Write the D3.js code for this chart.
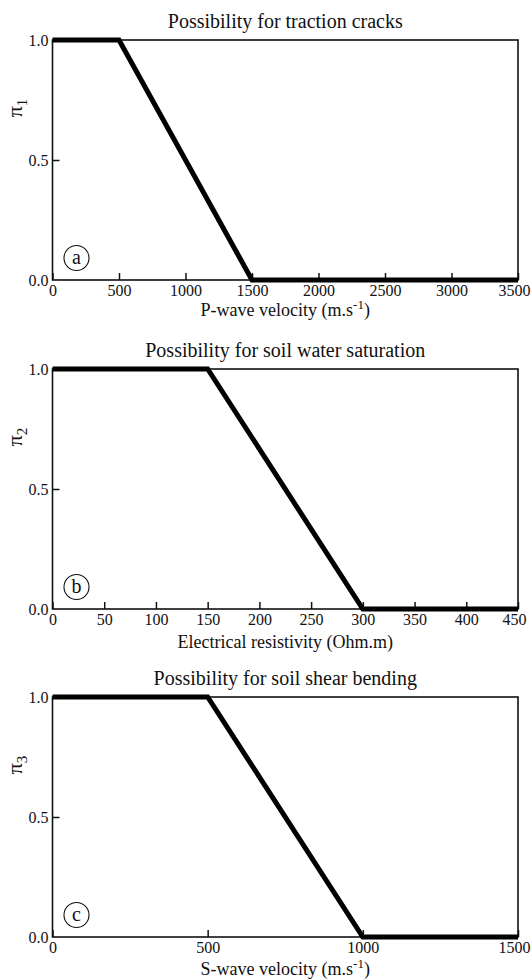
<!DOCTYPE html>
<html>
<head>
<meta charset="utf-8">
<script src="https://cdn.jsdelivr.net/npm/d3@7"></script>
<style>
  body { margin: 0; background: #fff; }
  svg { display: block; font-family: "Liberation Serif", "DejaVu Serif", serif; }
  .tick text { font-size: 16px; fill: #111; }
</style>
</head>
<body>
<svg id="chart" width="532" height="980"></svg>
<script>
// panel data: breakpoints of each possibility curve
const titles = ["Possibility for traction cracks", "Possibility for soil water saturation", "Possibility for soil shear bending"];
const xLabels = ["P-wave velocity (m.s", "Electrical resistivity (Ohm.m)", "S-wave velocity (m.s"];
const xLabelSup = ["-1", "", "-1"];
const yLabelSub = ["1", "2", "3"];
const letters = ["a", "b", "c"];
const xMax = [3500, 450, 1500];
const xTicks = [
  [0, 500, 1000, 1500, 2000, 2500, 3000, 3500],
  [0, 50, 100, 150, 200, 250, 300, 350, 400, 450],
  [0, 500, 1000, 1500]
];
const yTicks = [0, 0.5, 1];
const curveX = [
  [0, 500, 1500, 3500],
  [0, 150, 300, 450],
  [0, 500, 1000, 1500]
];
const curveY = [1, 1, 0, 0];

const left = 52.5, right = 518, panelH = 240;
const tops = [40, 369, 697];
const xLabelGap = [36, 39, 38];
const serif = '"Liberation Serif", "DejaVu Serif", serif';

const svg = d3.select("#chart");

titles.forEach((title, i) => {
  const g = svg.append("g").attr("transform", `translate(${left},${tops[i]})`);
  const w = right - left;

  const x = d3.scaleLinear().domain([0, xMax[i]]).range([0, w]);
  const y = d3.scaleLinear().domain([0, 1]).range([panelH, 0]);

  // bottom axis, ticks pointing in
  const xa = g.append("g")
    .attr("transform", `translate(0,${panelH})`)
    .call(d3.axisBottom(x).tickValues(xTicks[i]).tickSizeInner(-7).tickSizeOuter(0).tickPadding(5)
      .tickFormat(d3.format("d")))
    .attr("font-family", serif);
  xa.select(".domain").remove();
  xa.selectAll(".tick line").attr("stroke", "#111").attr("stroke-width", 1.5);
  // keep the last label inside the page, like the original
  xa.selectAll(".tick").filter(d => d === xMax[i]).select("text").attr("dx", -4);

  const ya = g.append("g")
    .call(d3.axisLeft(y).tickValues(yTicks).tickSizeInner(-7).tickSizeOuter(0).tickPadding(4)
      .tickFormat(d3.format(".1f")))
    .attr("font-family", serif);
  ya.select(".domain").remove();
  ya.selectAll(".tick line").attr("stroke", "#111").attr("stroke-width", 1.5);
  ya.selectAll(".tick").filter(d => d !== 0.5).select("line").remove();

  // frame
  g.append("rect")
    .attr("width", w).attr("height", panelH)
    .attr("fill", "none").attr("stroke", "#111").attr("stroke-width", 1.6);

  // possibility curve
  const pts = curveX[i].map((v, k) => [v, curveY[k]]);
  g.append("path")
    .datum(pts)
    .attr("fill", "none")
    .attr("stroke", "#000")
    .attr("stroke-width", 5)
    .attr("stroke-linejoin", "miter")
    .attr("d", d3.line().x(d => x(d[0])).y(d => y(d[1])));

  // title
  g.append("text")
    .attr("x", w / 2).attr("y", -12)
    .attr("text-anchor", "middle")
    .attr("font-size", 20).attr("fill", "#111")
    .text(title);

  // x label
  const xl = g.append("text")
    .attr("x", w / 2).attr("y", panelH + xLabelGap[i])
    .attr("text-anchor", "middle")
    .attr("font-size", 18).attr("fill", "#111");
  xl.append("tspan").text(xLabels[i]);
  if (xLabelSup[i]) {
    xl.append("tspan").attr("dy", -7).attr("font-size", 13).text(xLabelSup[i]);
    xl.append("tspan").attr("dy", 7).text(")");
  }

  // y label
  const yl = g.append("text")
    .attr("transform", `translate(-31,${panelH / 2 - 52}) rotate(-90)`)
    .attr("text-anchor", "middle")
    .attr("font-size", 22).attr("fill", "#111");
  yl.append("tspan").text("π");
  yl.append("tspan").attr("dy", 5).attr("font-size", 15).text(yLabelSub[i]);

  // panel letter
  const cy = panelH - 22;
  g.append("circle")
    .attr("cx", 24).attr("cy", cy).attr("r", 12.5)
    .attr("fill", "none").attr("stroke", "#111").attr("stroke-width", 1.1);
  g.append("text")
    .attr("x", 24).attr("y", cy)
    .attr("dy", "0.3em")
    .attr("text-anchor", "middle")
    .attr("font-size", 20).attr("fill", "#111")
    .text(letters[i]);
});
</script>
</body>
</html>
